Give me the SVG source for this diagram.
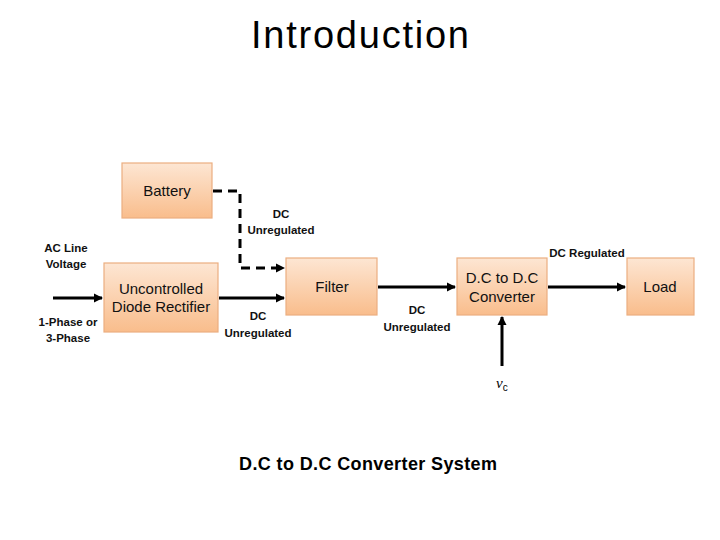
<svg xmlns="http://www.w3.org/2000/svg" width="720" height="540" viewBox="0 0 720 540">
<defs>
<linearGradient id="peach" x1="0" y1="0" x2="0" y2="1">
<stop offset="0" stop-color="#FDE6D3"/>
<stop offset="1" stop-color="#F9BD8C"/>
</linearGradient>
<marker id="ah" markerWidth="10" markerHeight="10" refX="8" refY="5" orient="auto" markerUnits="userSpaceOnUse">
<path d="M0,0.5 L9,5 L0,9.5 Z" fill="#000"/>
</marker>
</defs>
<style>
.box{fill:url(#peach);stroke:#EBAE80;stroke-width:1.2}
.bt{font-family:"Liberation Sans",Arial,sans-serif;font-size:15px;fill:#111;text-anchor:middle}
.lb{font-family:"Liberation Sans",Arial,sans-serif;font-size:11.5px;font-weight:bold;fill:#111;text-anchor:middle}
.ln{fill:none;stroke:#000;stroke-width:3;marker-end:url(#ah)}
.ds{stroke-dasharray:9,6}
</style>
<rect width="720" height="540" fill="#fff"/>
<text x="360" y="48" font-family="Liberation Sans,Arial,sans-serif" font-size="38" text-anchor="middle" textLength="218" fill="#000">Introduction</text>

<g id="battery"><rect class="box" x="122" y="163" width="90" height="55"/><text class="bt" x="167" y="196">Battery</text></g>
<g id="rectifier"><rect class="box" x="104" y="263" width="114" height="69"/><text class="bt" x="161" y="294">Uncontrolled</text><text class="bt" x="161" y="312">Diode Rectifier</text></g>
<g id="filter"><rect class="box" x="286" y="258" width="91" height="57"/><text class="bt" x="332" y="292">Filter</text></g>
<g id="converter"><rect class="box" x="457" y="258" width="90" height="57"/><text class="bt" x="502" y="283">D.C to D.C</text><text class="bt" x="502" y="302">Converter</text></g>
<g id="load"><rect class="box" x="627" y="258" width="67" height="57"/><text class="bt" x="660" y="292">Load</text></g>

<g id="connectors">
<path class="ln ds" d="M213,191 H240 V268 H284"/>
<path class="ln" d="M53,298 H102"/>
<path class="ln" d="M219,298 H284"/>
<path class="ln" d="M378,287 H455"/>
<path class="ln" d="M548,287 H625"/>
<path class="ln" d="M502,366 V317"/>
</g>

<g id="labels">
<text class="lb" x="281" y="218">DC</text><text class="lb" x="281" y="234">Unregulated</text>
<text class="lb" x="66" y="252">AC Line</text><text class="lb" x="66" y="268">Voltage</text>
<text class="lb" x="68" y="326">1-Phase or</text><text class="lb" x="68" y="342">3-Phase</text>
<text class="lb" x="258" y="320">DC</text><text class="lb" x="258" y="337">Unregulated</text>
<text class="lb" x="417" y="314">DC</text><text class="lb" x="417" y="331">Unregulated</text>
<text class="lb" x="587" y="257">DC Regulated</text>
<text x="496" y="388" font-family="Liberation Serif,serif" font-size="15" font-style="italic" fill="#000">v<tspan font-family="Liberation Sans,sans-serif" font-style="normal" font-size="10" dy="3">c</tspan></text>
</g>
<text x="368" y="470" font-family="Liberation Sans,Arial,sans-serif" font-size="18" font-weight="bold" text-anchor="middle" textLength="258" fill="#000">D.C to D.C Converter System</text>
</svg>
